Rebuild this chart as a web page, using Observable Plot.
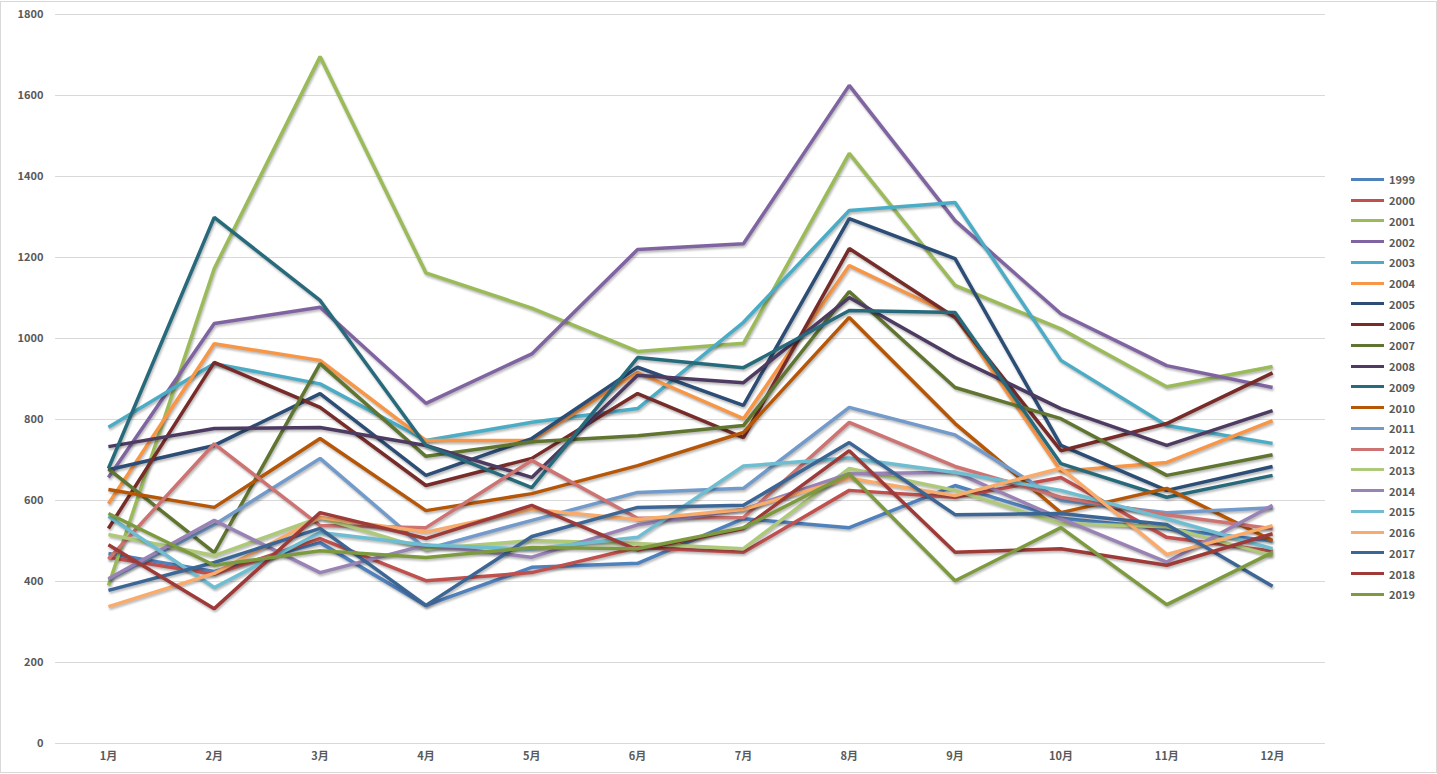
<!DOCTYPE html>
<html>
<head>
<meta charset="utf-8">
<script src="https://cdn.jsdelivr.net/npm/d3@7"></script>
<script src="https://cdn.jsdelivr.net/npm/@observablehq/plot@0.6"></script>
<style>
  html, body { margin: 0; padding: 0; background: #fff; }
  #wrap { position: relative; width: 1437px; height: 774px; overflow: hidden; }
  #frame { position: absolute; left: 0; top: 1px; width: 1435px; height: 770px; border: 1px solid #d9d9d9; pointer-events: none; }
  #legend { position: absolute; left: 1351px; top: 169px; font: bold 11px "Noto Sans CJK SC", "DejaVu Sans", sans-serif; color: #595959; }
  .li { display: flex; align-items: center; height: 20.75px; }
  .sw { width: 33px; height: 3px; margin-right: 5px; }
  svg g[aria-label="line"] path { filter: drop-shadow(1px 2px 1.2px rgba(0,0,0,0.28)); }
</style>
</head>
<body>
<div id="wrap"><div id="chart"></div><div id="legend"></div><div id="frame"></div></div>
<script>
const months = ["1月","2月","3月","4月","5月","6月","7月","8月","9月","10月","11月","12月"];
const years = ["1999","2000","2001","2002","2003","2004","2005","2006","2007","2008","2009","2010","2011","2012","2013","2014","2015","2016","2017","2018","2019"];
const colors = ["#4F81BD","#C0504D","#9BBB59","#8064A2","#4BACC6","#F79646","#2C4D75","#772C2A","#5F7530","#4D3B62","#276A7C","#B65708","#729ACA","#CD7371","#AFC97A","#9983B5","#6FBDD1","#F9AB6B","#3C6696","#9E3A38","#7D9B3E"];
const yTicks = [0,200,400,600,800,1000,1200,1400,1600,1800];

const v1999 = [469,425,496,341,435,445,555,533,637,556,530,500];
const v2000 = [460,418,506,402,422,484,472,625,608,657,509,475];
const v2001 = [390,1173,1696,1162,1075,968,988,1457,1131,1024,881,931];
const v2002 = [657,1037,1077,840,962,1220,1234,1625,1291,1061,933,879];
const v2003 = [781,938,888,748,793,827,1040,1316,1336,946,785,741];
const v2004 = [592,987,946,748,748,916,802,1180,1055,672,694,797];
const v2005 = [676,736,864,662,753,929,835,1296,1197,736,625,684];
const v2006 = [531,941,830,637,704,864,755,1222,1052,723,790,915];
const v2007 = [678,471,938,709,745,760,785,1116,879,802,662,713];
const v2008 = [733,778,780,736,657,909,891,1101,953,827,736,822];
const v2009 = [679,1299,1094,736,632,953,928,1069,1064,691,608,662];
const v2010 = [627,583,753,575,617,686,768,1052,790,570,630,501];
const v2011 = [405,540,704,480,551,620,630,830,762,600,570,582];
const v2012 = [455,740,538,533,699,556,558,793,684,608,565,530];
const v2013 = [516,464,558,480,501,494,481,679,625,543,535,464];
const v2014 = [407,551,422,490,460,540,578,666,670,555,448,588];
const v2015 = [561,385,521,490,480,509,685,705,669,625,555,481];
const v2016 = [338,420,558,522,578,553,578,655,612,680,467,538];
const v2017 = [378,447,531,341,511,583,588,743,565,568,541,388];
const v2018 = [491,333,570,506,588,478,531,723,472,481,440,518];
const v2019 = [568,440,476,459,484,481,533,666,402,533,343,472];

const seriesValues = [v1999,v2000,v2001,v2002,v2003,v2004,v2005,v2006,v2007,v2008,v2009,v2010,v2011,v2012,v2013,v2014,v2015,v2016,v2017,v2018,v2019];

const rows = [];
years.forEach((yr, i) => seriesValues[i].forEach((v, j) => rows.push({year: yr, month: months[j], value: v})));

const font = '"Noto Sans CJK SC", "DejaVu Sans", sans-serif';
const chart = Plot.plot({
  width: 1437,
  height: 774,
  marginLeft: 55,
  marginRight: 112,
  marginTop: 14,
  marginBottom: 31,
  style: {fontFamily: font, fontSize: "11px", fontWeight: "bold", color: "#595959", background: "#fff"},
  x: {type: "point", domain: months, padding: 0.5, round: false, label: null},
  y: {domain: [0, 1800], label: null},
  color: {domain: years, range: colors},
  marks: [
    Plot.gridY(yTicks.filter(d => d > 0), {stroke: "#d9d9d9", strokeOpacity: 1}),
    Plot.ruleY([0], {stroke: "#d9d9d9", strokeWidth: 1.2}),
    Plot.axisY(yTicks, {tickSize: 0, tickPadding: 12, tickFormat: d => String(d), fill: "#595959", fontWeight: "bold", label: null}),
    Plot.axisX(months, {tickSize: 0, tickPadding: 9, fill: "#595959", fontWeight: "bold", label: null}),
    Plot.line(rows, {x: "month", y: "value", z: "year", stroke: "year", strokeWidth: 3.5, strokeLinejoin: "miter", strokeLinecap: "butt"})
  ]
});
document.getElementById("chart").appendChild(chart);

const legend = document.getElementById("legend");
years.forEach((yr, i) => {
  const row = document.createElement("div");
  row.className = "li";
  const sw = document.createElement("span");
  sw.className = "sw";
  sw.style.background = colors[i];
  const t = document.createElement("span");
  t.textContent = yr;
  row.appendChild(sw); row.appendChild(t);
  legend.appendChild(row);
});
</script>
</body>
</html>
